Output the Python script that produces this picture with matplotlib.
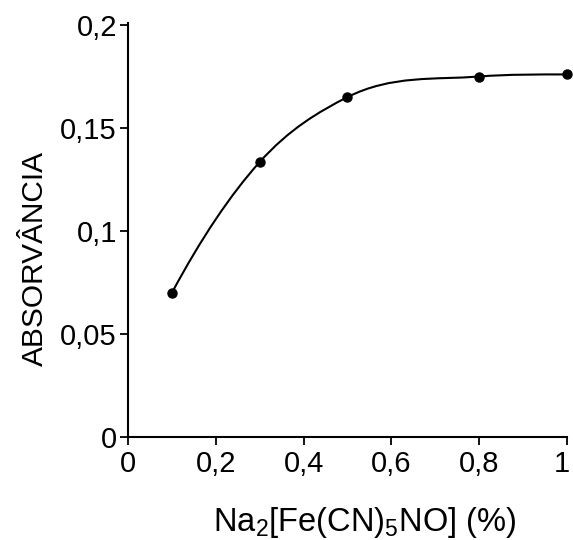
import numpy as np
import matplotlib
matplotlib.use("Agg")
import matplotlib.pyplot as plt
from matplotlib.path import Path
from matplotlib.patches import PathPatch
from matplotlib.transforms import ScaledTranslation

plt.rcParams['font.family'] = ['Liberation Sans', 'DejaVu Sans']
plt.rcParams['mathtext.fontset'] = 'custom'
plt.rcParams['mathtext.rm'] = 'Liberation Sans'
plt.rcParams['mathtext.it'] = 'Liberation Sans'
plt.rcParams['mathtext.default'] = 'regular'

# data
conc = [0.1, 0.3, 0.5, 0.8, 1.0]
absorb = [0.070, 0.1335, 0.165, 0.175, 0.176]
xticks = [0, 0.2, 0.4, 0.6, 0.8, 1.0]
xticklabels = ['0', '0,2', '0,4', '0,6', '0,8', '1']
yticks = [0, 0.05, 0.1, 0.15, 0.2]
yticklabels = ['0', '0,05', '0,1', '0,15', '0,2']


def smooth_path(x, y):
    # cubic bezier segments through the points, like a french-curve line
    x = np.asarray(x, float)
    y = np.asarray(y, float)
    h = np.diff(x)
    d = np.diff(y) / h
    m = np.zeros_like(x)
    for i in range(1, len(x) - 1):
        m[i] = (h[i] * d[i - 1] + h[i - 1] * d[i]) / (h[i - 1] + h[i])
    m[0] = d[0] + (d[0] - d[1]) * h[0] / (h[0] + h[1])
    m[-1] = max(0, d[-1] + (d[-1] - d[-2]) * h[-1] / (h[-1] + h[-2]))
    verts = [(x[0], y[0])]
    codes = [Path.MOVETO]
    for i in range(len(h)):
        verts += [(x[i] + h[i] / 3, y[i] + m[i] * h[i] / 3),
                  (x[i + 1] - h[i] / 3, y[i + 1] - m[i + 1] * h[i] / 3),
                  (x[i + 1], y[i + 1])]
        codes += [Path.CURVE4] * 3
    return Path(verts, codes)


fig = plt.figure(figsize=(5.73, 5.40), dpi=100)
ax = fig.add_axes([0.2234, 0.1907, 0.7661, 0.763])

ax.add_patch(PathPatch(smooth_path(conc, absorb), facecolor='none',
                       edgecolor='black', lw=1.5))
ax.plot(conc, absorb, 'o', color='black', markersize=6.5, clip_on=False)

ax.set_xlim(0, 1)
ax.set_ylim(0, 0.2)
ax.set_xticks(xticks)
ax.set_xticklabels(xticklabels)
ax.set_yticks(yticks)
ax.set_yticklabels(yticklabels)

for s in ['top', 'right']:
    ax.spines[s].set_visible(False)
for s in ['left', 'bottom']:
    ax.spines[s].set_linewidth(1.5)
ax.spines['left'].set_bounds(0, 0.201)

ax.tick_params(axis='both', direction='out', length=6, width=1.3,
               labelsize=21)
ax.tick_params(axis='x', pad=3)
ax.tick_params(axis='y', pad=2)

# keep the last x label ("1") inside the picture
last = ax.get_xticklabels()[-1]
last.set_transform(last.get_transform() + ScaledTranslation(-4 / 72, 0, fig.dpi_scale_trans))

ax.set_ylabel('ABSORVÂNCIA', fontsize=21.5)
ax.yaxis.set_label_coords(-0.18, 0.434)
ax.set_xlabel(r'Na$_2$[Fe(CN)$_5$NO] (%)', fontsize=23.5)
ax.xaxis.set_label_coords(0.538, -0.165)

fig.savefig('out.png', dpi=100)
